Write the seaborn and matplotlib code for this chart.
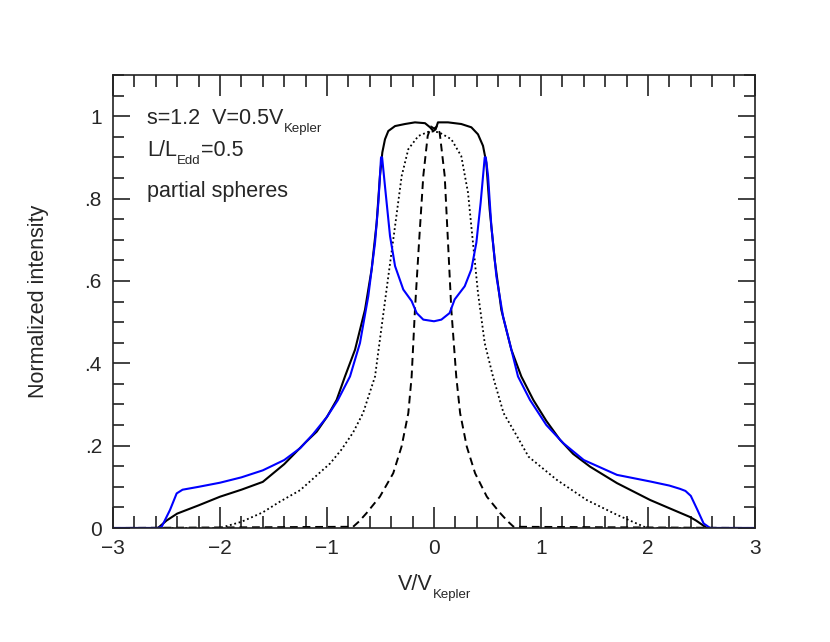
import numpy as np
import matplotlib
matplotlib.use("Agg")
import matplotlib.pyplot as plt
from matplotlib.ticker import MultipleLocator, FixedLocator
import pandas as pd
import seaborn as sns

# total profile (solid black)
v_total = [-3.0, -2.58, -2.5, -2.4, -2.2, -2.0, -1.8, -1.6, -1.4, -1.2, -1.096, -1.0,
           -0.91, -0.832, -0.738, -0.645, -0.583, -0.536, -0.505, -0.483, -0.458, -0.427,
           -0.364, -0.271, -0.178, -0.084, -0.037, -0.006, 0.015, 0.037, 0.131, 0.255,
           0.349, 0.411, 0.458, 0.489, 0.52, 0.567, 0.629, 0.723, 0.816, 0.928, 1.05,
           1.178, 1.3, 1.458, 1.71, 2.02, 2.2, 2.39, 2.45, 2.55, 3.0]
i_total = [0.0, 0.0, 0.018, 0.035, 0.055, 0.076, 0.093, 0.112, 0.155, 0.208, 0.234, 0.27,
           0.311, 0.368, 0.433, 0.53, 0.628, 0.741, 0.855, 0.912, 0.944, 0.964,
           0.976, 0.981, 0.985, 0.983, 0.973, 0.964, 0.968, 0.985, 0.985, 0.981,
           0.973, 0.956, 0.928, 0.887, 0.774, 0.652, 0.53, 0.433, 0.368, 0.311, 0.26,
           0.214, 0.18, 0.149, 0.109, 0.068, 0.048, 0.027, 0.018, 0.0, 0.0]

# blue profile
v_blue = [-3.0, -2.58, -2.545, -2.467, -2.405, -2.35, -2.2, -2.0, -1.8, -1.6, -1.4, -1.25,
          -1.13, -1.0, -0.9, -0.785, -0.692, -0.614, -0.551, -0.52, -0.495, -0.485, -0.452,
          -0.411, -0.364, -0.287, -0.209, -0.162, -0.1, 0.0, 0.069, 0.146, 0.193, 0.287,
          0.349, 0.396, 0.436, 0.474, 0.484, 0.505, 0.536, 0.583, 0.645, 0.723, 0.785,
          0.897, 1.05, 1.208, 1.4, 1.71, 2.02, 2.2, 2.3, 2.35, 2.4, 2.46, 2.52, 2.58, 3.0]
i_blue = [0.0, 0.0, 0.003, 0.044, 0.084, 0.093, 0.1, 0.11, 0.123, 0.14, 0.165, 0.194,
          0.228, 0.27, 0.31, 0.368, 0.449, 0.563, 0.693, 0.79, 0.9, 0.9, 0.814,
          0.709, 0.636, 0.579, 0.551, 0.522, 0.506, 0.502, 0.506, 0.522, 0.555, 0.587,
          0.628, 0.693, 0.79, 0.9, 0.9, 0.855, 0.733, 0.611, 0.514, 0.433, 0.368,
          0.311, 0.25, 0.206, 0.165, 0.129, 0.113, 0.103, 0.095, 0.09, 0.078, 0.045, 0.011, 0.0, 0.0]

# dotted profile
v_dot = [-3.0, -2.0, -1.8, -1.6, -1.44, -1.25, -0.97, -0.866, -0.756, -0.663, -0.551,
         -0.489, -0.427, -0.364, -0.302, -0.24, -0.146, -0.053, 0.0, 0.053, 0.162, 0.255,
         0.318, 0.364, 0.411, 0.474, 0.551, 0.65, 0.76, 0.884, 1.147, 1.427, 1.71, 1.99, 3.0]
i_dot = [0.0, 0.0, 0.015, 0.038, 0.064, 0.092, 0.157, 0.19, 0.232, 0.279, 0.368,
         0.49, 0.611, 0.733, 0.855, 0.92, 0.952, 0.962, 0.963, 0.96, 0.944, 0.903,
         0.814, 0.693, 0.571, 0.449, 0.368, 0.279, 0.23, 0.173, 0.117, 0.068, 0.032, 0.0, 0.0]

# dashed profile
v_dash = [-3.0, -0.756, -0.7, -0.631, -0.506, -0.381, -0.303, -0.24, -0.209, -0.178,
          -0.14, -0.1, -0.059, -0.028, 0.0, 0.028, 0.053, 0.1, 0.131, 0.162, 0.208, 0.244,
          0.306, 0.384, 0.494, 0.619, 0.69, 0.744, 3.0]
i_dash = [0.0, 0.003, 0.016, 0.036, 0.076, 0.133, 0.198, 0.279, 0.368, 0.53,
          0.693, 0.855, 0.952, 0.975, 0.97, 0.975, 0.96, 0.855, 0.693, 0.53, 0.368, 0.279,
          0.198, 0.133, 0.076, 0.036, 0.016, 0.003, 0.0]

xticks = [-3, -2, -1, 0, 1, 2, 3]
yticks = [0, 0.2, 0.4, 0.6, 0.8, 1.0]
ytick_labels = ["0", ".2", ".4", ".6", ".8", "1"]

MAIN = 15.5
SUB = 9.5


def sub_text(ax, x, y, pieces, transform):
    # draw text pieces one after another, subscripts smaller and lower
    renderer = ax.figure.canvas.get_renderer()
    dx = 0.0
    for s, is_sub in pieces:
        t = ax.annotate(s, xy=(x, y), xycoords=transform, xytext=(dx, -5.5 if is_sub else 0),
                        textcoords="offset points", fontsize=SUB if is_sub else MAIN,
                        va="baseline", ha="left", annotation_clip=False)
        dx += t.get_window_extent(renderer).width * 72.0 / ax.figure.dpi
    return dx


sns.set_style("ticks")
plt.rcParams['font.family'] = ['Liberation Sans', 'DejaVu Sans']

fig = plt.figure(figsize=(8.3, 6.42), dpi=100)
ax = fig.add_axes([113/830, 1-528/642, (755-113)/830, (528-75)/642])

df_dash = pd.DataFrame({"v": v_dash, "i": i_dash})
df_dot = pd.DataFrame({"v": v_dot, "i": i_dot})
df_total = pd.DataFrame({"v": v_total, "i": i_total})
df_blue = pd.DataFrame({"v": v_blue, "i": i_blue})

sns.lineplot(data=df_dash, x="v", y="i", ax=ax, sort=False, estimator=None,
             color="black", linewidth=1.4, linestyle=(0, (4, 2.5)))
sns.lineplot(data=df_dot, x="v", y="i", ax=ax, sort=False, estimator=None,
             color="black", linewidth=1.3, linestyle=(0, (1, 1.5)))
sns.lineplot(data=df_total, x="v", y="i", ax=ax, sort=False, estimator=None,
             color="black", linewidth=1.5)
sns.lineplot(data=df_blue, x="v", y="i", ax=ax, sort=False, estimator=None,
             color="#0000ff", linewidth=1.5)

ax.set_xlim(-3, 3)
ax.set_ylim(0, 1.1)
ax.xaxis.set_major_locator(FixedLocator(xticks))
ax.xaxis.set_minor_locator(MultipleLocator(0.2))
ax.yaxis.set_major_locator(FixedLocator(yticks))
ax.yaxis.set_minor_locator(MultipleLocator(0.05))
ax.set_yticklabels(ytick_labels)
ax.tick_params(which="both", direction="in", top=True, right=True, labelsize=15,
               color="#222222", pad=8)
ax.tick_params(axis="x", which="major", length=15, width=1.2)
ax.tick_params(axis="x", which="minor", length=8.5, width=1.2)
ax.tick_params(axis="y", which="major", length=12, width=1.2)
ax.tick_params(axis="y", which="minor", length=7.7, width=1.2)
for s in ax.spines.values():
    s.set_linewidth(1.2)
    s.set_color("#222222")

ax.set_xlabel("")
ax.set_ylabel("Normalized intensity", fontsize=MAIN)
ax.yaxis.set_label_coords(-0.116, 0.5)
ax.yaxis.label.set_va("center")

# x label with small subscript
sub_text(ax, 0.444, -0.137, [("V/V", False), ("Kepler", True)], ax.transAxes)

# annotations
sub_text(ax, -2.682, 0.981, [("s=1.2  V=0.5V", False), ("Kepler", True)], ax.transData)
sub_text(ax, -2.682, 0.903, [("L/L", False), ("Edd", True), ("=0.5", False)], ax.transData)
sub_text(ax, -2.682, 0.803, [("partial spheres", False)], ax.transData)

plt.savefig("out.png", dpi=100)
plt.close()
